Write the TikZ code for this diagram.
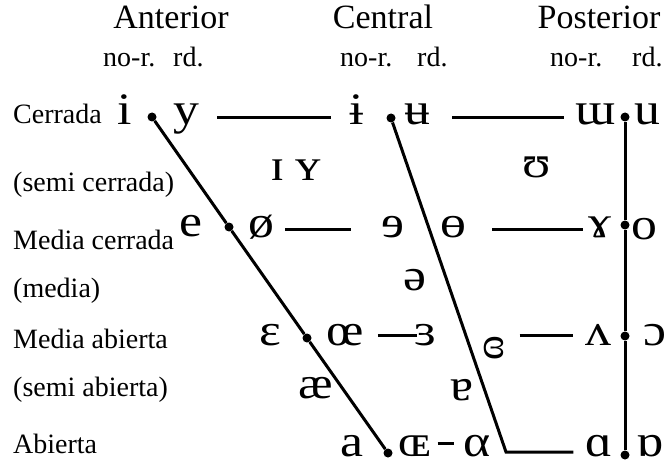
\documentclass[tikz,border=0pt]{standalone}
\usepackage{fontspec}
\setmainfont{Liberation Serif}
\newfontfamily\ipafont[FakeStretch=1.15]{Liberation Serif}

\begin{document}
\begin{tikzpicture}[x=1pt,y=-1pt,
  head/.style={font=\fontsize{34}{40}\selectfont,anchor=base,inner sep=0},
  sub/.style={font=\fontsize{28}{32}\selectfont,anchor=base west,inner sep=0},
  lab/.style={font=\fontsize{28}{32}\selectfont,anchor=base west,inner sep=0},
  ipa/.style={font=\ipafont\fontsize{45}{48}\selectfont,anchor=base,inner sep=0},
  vdot/.style={circle,fill,inner sep=0,minimum size=9pt},
  ln/.style={line width=3pt}]
\useasboundingbox (0,0) rectangle (671,465);

% column heads
\node[head] (hant) at (171,29) {Anterior};
\node[head] (hcen) at (383,29) {Central};
\node[head] (hpos) at (599,29) {Posterior};
\node[sub] (nr1) at (103,67) {no-r.};
\node[sub] (rd1) at (173,67) {rd.};
\node[sub] (nr2) at (340,67) {no-r.};
\node[sub] (rd2) at (417,67) {rd.};
\node[sub] (nr3) at (550,67) {no-r.};
\node[sub] (rd3) at (632,67) {rd.};

% row labels
\node[lab] (l1) at (13,124) {Cerrada};
\node[lab] (l2) at (13,191) {(semi cerrada)};
\node[lab] (l3) at (13,249) {Media cerrada};
\node[lab] (l4) at (13,297) {(media)};
\node[lab] (l5) at (13,348) {Media abierta};
\node[lab] (l6) at (13,396) {(semi abierta)};
\node[lab] (l7) at (13,453) {Abierta};

% vowels
\node[ipa] (n1a) at (125,125) {i};
\node[ipa] (n1b) at (186,125) {y};
\node[ipa] (n1c) at (357,125) {ɨ};
\node[ipa] (n1d) at (417,125) {ʉ};
\node[ipa] (n1e) at (596,125) {ɯ};
\node[ipa] (n1f) at (647,125) {u};

\node[ipa] (n2a) at (278,180) {ɪ};
\node[ipa] (n2b) at (308,180) {ʏ};
\node[ipa] (n2c) at (537,177) {ʊ};

\node[ipa] (n3a) at (191,236) {e};
\node[ipa] (n3b) at (261,237) {ø};
\node[ipa] (n3c) at (393,237) {ɘ};
\node[ipa] (n3d) at (453,237) {ɵ};
\node[ipa] (n3e) at (600,237) {ɤ};
\node[ipa] (n3f) at (644,239) {o};

\node[ipa] (n4) at (415,290) {ə};

\node[ipa] (n5a) at (270,345) {ɛ};
\node[ipa] (n5b) at (345,345) {œ};
\node[ipa] (n5c) at (425,345) {ɜ};
\node[ipa] (n5d) at (494,358) {ɞ};
\node[ipa] (n5e) at (598,345) {ʌ};
\node[ipa] (n5f) at (655,345) {ɔ};

\node[ipa] (n6a) at (316,398) {æ};
\node[ipa] (n6b) at (462,400) {ɐ};

\node[ipa] (n7a) at (352,456) {a};
\node[ipa] (n7b) at (415,456) {ɶ};
\node[ipa] (n7c) at (477,456) {α};
\node[ipa] (n7d) at (599,456) {ɑ};
\node[ipa] (n7e) at (650,456) {ɒ};

% dots on the edges
\node[vdot] (d1a) at (152,117) {};
\node[vdot] (d3a) at (229,227) {};
\node[vdot] (d5a) at (307,338) {};
\node[vdot] (d7a) at (388,453) {};
\node[vdot] (d1b) at (391,118) {};
\coordinate (knee) at (506,452);
\node[vdot] (d1c) at (625,117) {};
\node[vdot] (d3c) at (625,225) {};
\node[vdot] (d5c) at (625,336) {};
\node[vdot] (d7c) at (625,455) {};

\draw[ln] (d1a) -- (d3a) -- (d5a) -- (d7a);
\draw[ln,shorten >=12pt] (d1b) -- (knee) -- (knee -| n7d.west);
\draw[ln] (d1c) -- (d3c) -- (d5c) -- (d7c);

\draw[ln,shorten <=18pt,shorten >=19pt] ([yshift=7pt]n1b.base east) -- ([yshift=7pt]n1c.base west);
\draw[ln,shorten <=22pt,shorten >=12pt] ([yshift=7pt]n1d.base east) -- ([yshift=7pt]n1e.base west);
\draw[ln,shorten <=11pt,shorten >=30pt] ([yshift=8pt]n3b.base east) -- ([yshift=8pt]n3c.base west);
\draw[ln,shorten <=26pt,shorten >=5pt] ([yshift=8pt]n3d.base east) -- ([yshift=8pt]n3e.base west);
\draw[ln,shorten <=14pt,shorten >=-3pt] ([yshift=10pt]n5b.base east) -- ([yshift=10pt]n5c.base west);
\draw[ln,shorten <=14pt,shorten >=12pt] ([yshift=10pt]n5d.east |- n5e.base west) -- ([yshift=10pt]n5e.base west);
\draw[ln,shorten <=6pt,shorten >=9pt] ([yshift=13pt]n7b.base east) -- ([yshift=13pt]n7c.base west);
\end{tikzpicture}
\end{document}
